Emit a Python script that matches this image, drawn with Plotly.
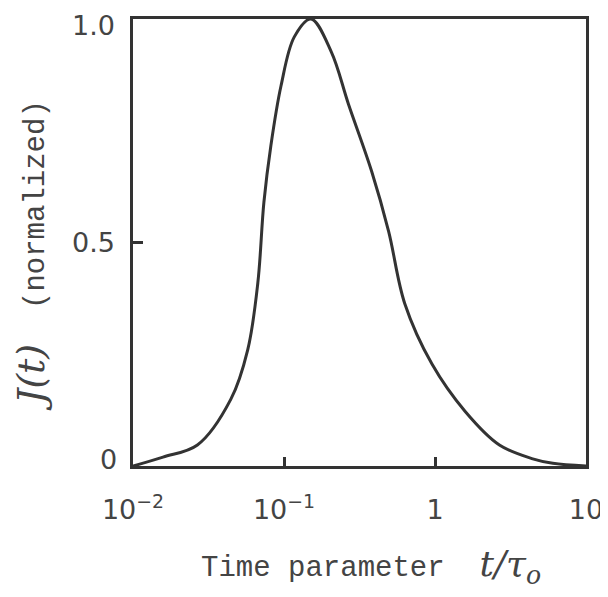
import plotly.graph_objects as go

# Data (t/tau0 on log axis, J normalized)
t_values = [0.01, 0.0158, 0.0267, 0.0444, 0.0575, 0.0671, 0.0736, 0.0818, 0.0955,
            0.117, 0.151, 0.206, 0.267, 0.38, 0.493, 0.631, 0.955, 1.585,
            2.67, 4.44, 6.03, 10.0]
j_values = [0.0, 0.02, 0.047, 0.149, 0.26, 0.41, 0.59, 0.716, 0.85,
            0.96, 1.0, 0.926, 0.81, 0.66, 0.525, 0.363, 0.228, 0.122,
            0.047, 0.016, 0.006, 0.0]

x_tickvals = [0.01, 0.1, 1, 10]
x_ticktext = ["10<sup>−2</sup>", "10<sup>−1</sup>", "1", "10"]
y_tickvals = [0, 0.5, 1.0]
y_ticktext = ["0", "0.5", "1.0"]

ink = "#333333"
tick_font = dict(family="DejaVu Sans", size=27, color="#444444")

fig = go.Figure()
fig.add_trace(go.Scatter(
    x=t_values, y=j_values, mode="lines",
    line=dict(color=ink, width=3, shape="spline", smoothing=1.0),
    cliponaxis=False, showlegend=False, hoverinfo="skip"))

fig.update_xaxes(
    type="log", range=[-2, 1], tickvals=x_tickvals, ticktext=x_ticktext,
    ticks="inside", ticklen=9, tickwidth=2.5, tickcolor=ink,
    showline=True, linecolor=ink, linewidth=2.5, mirror=True, automargin=False,
    showgrid=False, zeroline=False, tickfont=tick_font, ticklabelstandoff=18)
fig.update_yaxes(
    range=[0, 1.0], tickvals=y_tickvals, showticklabels=False,
    ticks="inside", ticklen=10, tickwidth=2.5, tickcolor=ink,
    showline=True, linecolor=ink, linewidth=2.5, mirror=True, automargin=False,
    showgrid=False, zeroline=False)

# y tick labels placed at the axis values
for val, txt in zip(y_tickvals, y_ticktext):
    fig.add_annotation(
        xref="paper", yref="y", x=0, y=val, xanchor="right", yanchor="middle",
        xshift=-16 if val > 0 else -14, yshift=-6 if val == 1.0 else (7 if val == 0 else 0),
        showarrow=False, text=txt, font=tick_font)

fig.add_annotation(
    xref="paper", yref="paper", x=0.525, y=-0.225, xanchor="center", yanchor="middle",
    showarrow=False,
    text="Time parameter  <span style='font-family:DejaVu Serif;font-size:36px'><i>t/τ<sub>o</sub></i></span>",
    font=dict(family="Liberation Mono", size=29, color="#444444"))
fig.add_annotation(
    xref="paper", yref="paper", x=-0.225, y=0.47, xanchor="center", yanchor="middle",
    showarrow=False, textangle=-90,
    text="<span style='font-family:DejaVu Serif;font-size:38px'><i>J(t)</i></span>  (normalized)",
    font=dict(family="Liberation Mono", size=29, color="#444444"))
fig.add_annotation(
    xref="paper", yref="paper", x=1.045, y=1.04, xanchor="center", yanchor="top",
    showarrow=False, textangle=90,
    text="Time         dt/",
    font=dict(family="Liberation Mono", size=20, color="#bbbbbb"))

fig.update_layout(
    width=608, height=597,
    margin=dict(l=125, r=30, t=11, b=139),
    paper_bgcolor="white", plot_bgcolor="white")

fig.write_html("out.html")
